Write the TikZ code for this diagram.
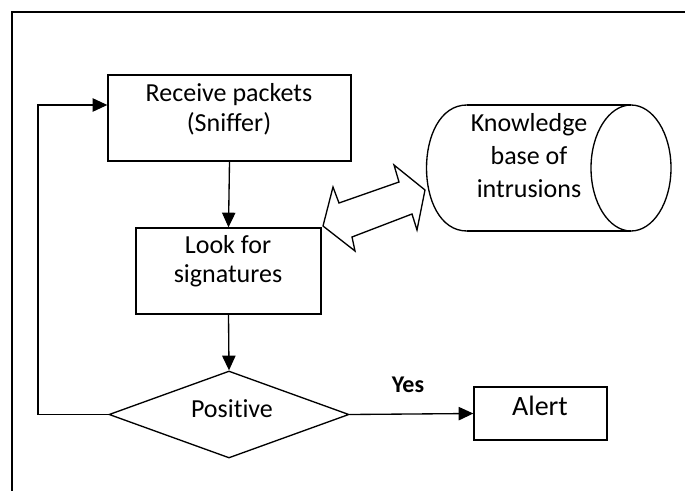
\documentclass[tikz,border=0pt]{standalone}
\usepackage{fontspec}
\setmainfont{Carlito}[Ligatures=NoCommon]
\usetikzlibrary{arrows.meta,shapes.geometric}

\begin{document}
\begin{tikzpicture}[x=0.75pt,y=0.75pt,
  line width=1pt,
  box/.style={draw, rectangle, inner sep=0pt},
  txt/.style={inner sep=0pt, align=center, font=\fontsize{19.5}{22.5}\selectfont},
  flow/.style={-{Triangle[length=11pt,width=10pt]}},
]
\useasboundingbox (0,0) rectangle (685,490);
\fill[white] (0,0) rectangle (685,490);

% outer frame
\draw[line width=1.4pt] (12,-5) -- (12,478) -- (690,478);

% process boxes (sizes in pt)
\node[box, minimum width=182.25pt, minimum height=64.5pt] (recv) at (229.5,372) {};
\node[box, minimum width=138.75pt, minimum height=64.5pt] (look) at (228.5,219) {};
\node[draw, diamond, aspect=2.76, minimum width=180pt, minimum height=65.25pt, inner sep=0pt] (pos) at (229,75.5) {};
\node[box, minimum width=99.75pt, minimum height=39.75pt] (alert) at (540.5,76.5) {};

% box texts
\node[txt, anchor=base] (recvtxt) at (229,358) {Receive packets\\(Sniffer)};
\node[txt, anchor=base, font=\fontsize{19.5}{21.75}\selectfont] (looktxt) at (228,208) {Look for\\signatures};
\node[txt, anchor=base] (postxt) at (232,73) {Positive};
\node[txt, anchor=base, font=\fontsize{21}{25}\selectfont] (alerttxt) at (540,75) {Alert};
\node[txt, anchor=base, font=\fontsize{18}{22}\selectfont\bfseries] (yes) at (408,98) {Yes};

% knowledge base store
\draw (467,385) -- (631,385) (467,259) -- (631,259);
\draw (631,322) ellipse [x radius=40, y radius=63];
\draw (467,385) .. controls (413,385) and (413,259) .. (467,259);
\node[txt, anchor=base, font=\fontsize{19.5}{24.75}\selectfont] (kb) at (529,292) {Knowledge\\base of\\intrusions};

% two-way exchange arrow
\draw[line join=miter] (323,264) -- (333,303) -- (339,287) -- (399,308) -- (394,325)
  -- (425,300) -- (417,260) -- (412,276) -- (352,253) -- (355,239) -- cycle;

% connectors
\draw[flow] (recv.south) -- (look.north);
\draw[flow] (look.south) -- (pos.north);
\draw[flow] (pos.east) -- (alert.west);
\coordinate (loopbot) at (38,75.5);
\coordinate (looptop) at (38,385);
\draw[flow] (pos.west) -- (loopbot) -- (looptop) -- (looptop -| recv.west);
\end{tikzpicture}
\end{document}
